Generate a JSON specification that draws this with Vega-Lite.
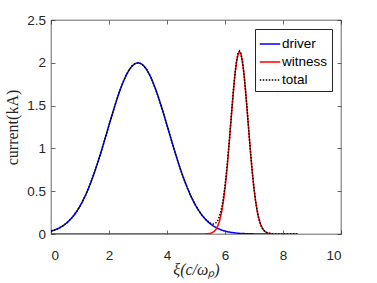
{
  "$schema": "https://vega.github.io/schema/vega-lite/v6.json",
  "width": 290,
  "height": 214,
  "autosize": {"type": "none"},
  "padding": {"left": 51, "top": 20, "right": 36, "bottom": 49},
  "background": "white",
  "config": {
    "view": {"stroke": "#262626", "strokeWidth": 0.7},
    "axis": {
      "domain": false,
      "grid": false,
      "tickColor": "#262626",
      "tickWidth": 0.7,
      "labelFont": "Liberation Sans",
      "labelFontSize": 13.5,
      "labelColor": "#262626",
      "titleFont": "Liberation Serif",
      "titleFontSize": 16,
      "titleFontWeight": "normal",
      "titleColor": "#262626"
    }
  },
  "data": {
    "values": [
      {"x": 0, "current": 0.0338, "series": "driver"},
      {"x": 0.1, "current": 0.0441, "series": "driver"},
      {"x": 0.2, "current": 0.0571, "series": "driver"},
      {"x": 0.3, "current": 0.0733, "series": "driver"},
      {"x": 0.4, "current": 0.0932, "series": "driver"},
      {"x": 0.5, "current": 0.1175, "series": "driver"},
      {"x": 0.6, "current": 0.1467, "series": "driver"},
      {"x": 0.7, "current": 0.1816, "series": "driver"},
      {"x": 0.8, "current": 0.2227, "series": "driver"},
      {"x": 0.9, "current": 0.2707, "series": "driver"},
      {"x": 1.0, "current": 0.3260, "series": "driver"},
      {"x": 1.1, "current": 0.3891, "series": "driver"},
      {"x": 1.2, "current": 0.4601, "series": "driver"},
      {"x": 1.3, "current": 0.5393, "series": "driver"},
      {"x": 1.4, "current": 0.6264, "series": "driver"},
      {"x": 1.5, "current": 0.7209, "series": "driver"},
      {"x": 1.6, "current": 0.8222, "series": "driver"},
      {"x": 1.7, "current": 0.9293, "series": "driver"},
      {"x": 1.8, "current": 1.0409, "series": "driver"},
      {"x": 1.9, "current": 1.1553, "series": "driver"},
      {"x": 2.0, "current": 1.2707, "series": "driver"},
      {"x": 2.1, "current": 1.3851, "series": "driver"},
      {"x": 2.2, "current": 1.4961, "series": "driver"},
      {"x": 2.3, "current": 1.6015, "series": "driver"},
      {"x": 2.4, "current": 1.6987, "series": "driver"},
      {"x": 2.5, "current": 1.7856, "series": "driver"},
      {"x": 2.6, "current": 1.8600, "series": "driver"},
      {"x": 2.7, "current": 1.9200, "series": "driver"},
      {"x": 2.8, "current": 1.9640, "series": "driver"},
      {"x": 2.9, "current": 1.9909, "series": "driver"},
      {"x": 3.0, "current": 2.0, "series": "driver"},
      {"x": 3.1, "current": 1.9909, "series": "driver"},
      {"x": 3.2, "current": 1.9640, "series": "driver"},
      {"x": 3.3, "current": 1.9200, "series": "driver"},
      {"x": 3.4, "current": 1.8600, "series": "driver"},
      {"x": 3.5, "current": 1.7856, "series": "driver"},
      {"x": 3.6, "current": 1.6987, "series": "driver"},
      {"x": 3.7, "current": 1.6015, "series": "driver"},
      {"x": 3.8, "current": 1.4961, "series": "driver"},
      {"x": 3.9, "current": 1.3851, "series": "driver"},
      {"x": 4.0, "current": 1.2707, "series": "driver"},
      {"x": 4.1, "current": 1.1553, "series": "driver"},
      {"x": 4.2, "current": 1.0409, "series": "driver"},
      {"x": 4.3, "current": 0.9293, "series": "driver"},
      {"x": 4.4, "current": 0.8222, "series": "driver"},
      {"x": 4.5, "current": 0.7209, "series": "driver"},
      {"x": 4.6, "current": 0.6264, "series": "driver"},
      {"x": 4.7, "current": 0.5393, "series": "driver"},
      {"x": 4.8, "current": 0.4601, "series": "driver"},
      {"x": 4.9, "current": 0.3891, "series": "driver"},
      {"x": 5.0, "current": 0.3260, "series": "driver"},
      {"x": 5.1, "current": 0.2707, "series": "driver"},
      {"x": 5.2, "current": 0.2227, "series": "driver"},
      {"x": 5.3, "current": 0.1816, "series": "driver"},
      {"x": 5.4, "current": 0.1467, "series": "driver"},
      {"x": 5.5, "current": 0.1175, "series": "driver"},
      {"x": 5.6, "current": 0.0932, "series": "driver"},
      {"x": 5.7, "current": 0.0733, "series": "driver"},
      {"x": 5.8, "current": 0.0571, "series": "driver"},
      {"x": 5.9, "current": 0.0441, "series": "driver"},
      {"x": 6.0, "current": 0.0338, "series": "driver"},
      {"x": 6.1, "current": 0.0256, "series": "driver"},
      {"x": 6.2, "current": 0.0192, "series": "driver"},
      {"x": 6.3, "current": 0.0143, "series": "driver"},
      {"x": 6.4, "current": 0.0106, "series": "driver"},
      {"x": 6.5, "current": 0.0077, "series": "driver"},
      {"x": 6.6, "current": 0.0056, "series": "driver"},
      {"x": 6.7, "current": 0.0040, "series": "driver"},
      {"x": 6.8, "current": 0.0029, "series": "driver"},
      {"x": 6.9, "current": 0.0020, "series": "driver"},
      {"x": 7.0, "current": 0.0014, "series": "driver"},
      {"x": 7.1, "current": 0.0010, "series": "driver"},
      {"x": 7.2, "current": 0.0007, "series": "driver"},
      {"x": 7.3, "current": 0.0005, "series": "driver"},
      {"x": 7.4, "current": 0.0003, "series": "driver"},
      {"x": 7.5, "current": 0.0002, "series": "driver"},

      {"x": 0, "current": 0, "series": "witness"},
      {"x": 1, "current": 0, "series": "witness"},
      {"x": 2, "current": 0, "series": "witness"},
      {"x": 3, "current": 0, "series": "witness"},
      {"x": 4, "current": 0, "series": "witness"},
      {"x": 5, "current": 0, "series": "witness"},
      {"x": 5.2, "current": 0.0002, "series": "witness"},
      {"x": 5.3, "current": 0.0007, "series": "witness"},
      {"x": 5.4, "current": 0.0026, "series": "witness"},
      {"x": 5.5, "current": 0.0082, "series": "witness"},
      {"x": 5.55, "current": 0.0142, "series": "witness"},
      {"x": 5.6, "current": 0.0237, "series": "witness"},
      {"x": 5.65, "current": 0.0385, "series": "witness"},
      {"x": 5.7, "current": 0.0609, "series": "witness"},
      {"x": 5.75, "current": 0.0936, "series": "witness"},
      {"x": 5.8, "current": 0.1400, "series": "witness"},
      {"x": 5.85, "current": 0.2037, "series": "witness"},
      {"x": 5.9, "current": 0.2883, "series": "witness"},
      {"x": 5.95, "current": 0.3968, "series": "witness"},
      {"x": 6.0, "current": 0.5311, "series": "witness"},
      {"x": 6.05, "current": 0.6915, "series": "witness"},
      {"x": 6.1, "current": 0.8757, "series": "witness"},
      {"x": 6.15, "current": 1.0785, "series": "witness"},
      {"x": 6.2, "current": 1.2919, "series": "witness"},
      {"x": 6.25, "current": 1.5051, "series": "witness"},
      {"x": 6.3, "current": 1.7056, "series": "witness"},
      {"x": 6.35, "current": 1.8797, "series": "witness"},
      {"x": 6.4, "current": 2.0149, "series": "witness"},
      {"x": 6.45, "current": 2.1006, "series": "witness"},
      {"x": 6.5, "current": 2.1300, "series": "witness"},
      {"x": 6.55, "current": 2.1006, "series": "witness"},
      {"x": 6.6, "current": 2.0149, "series": "witness"},
      {"x": 6.65, "current": 1.8797, "series": "witness"},
      {"x": 6.7, "current": 1.7056, "series": "witness"},
      {"x": 6.75, "current": 1.5051, "series": "witness"},
      {"x": 6.8, "current": 1.2919, "series": "witness"},
      {"x": 6.85, "current": 1.0785, "series": "witness"},
      {"x": 6.9, "current": 0.8757, "series": "witness"},
      {"x": 6.95, "current": 0.6915, "series": "witness"},
      {"x": 7.0, "current": 0.5311, "series": "witness"},
      {"x": 7.05, "current": 0.3968, "series": "witness"},
      {"x": 7.1, "current": 0.2883, "series": "witness"},
      {"x": 7.15, "current": 0.2037, "series": "witness"},
      {"x": 7.2, "current": 0.1400, "series": "witness"},
      {"x": 7.25, "current": 0.0936, "series": "witness"},
      {"x": 7.3, "current": 0.0609, "series": "witness"},
      {"x": 7.35, "current": 0.0385, "series": "witness"},
      {"x": 7.4, "current": 0.0237, "series": "witness"},
      {"x": 7.45, "current": 0.0142, "series": "witness"},
      {"x": 7.5, "current": 0.0082, "series": "witness"},
      {"x": 7.6, "current": 0.0026, "series": "witness"},
      {"x": 7.7, "current": 0.0007, "series": "witness"},
      {"x": 7.8, "current": 0.0002, "series": "witness"},
      {"x": 8.0, "current": 0, "series": "witness"},
      {"x": 8.5, "current": 0, "series": "witness"},

      {"x": 0, "current": 0.0338, "series": "total"},
      {"x": 0.1, "current": 0.0441, "series": "total"},
      {"x": 0.2, "current": 0.0571, "series": "total"},
      {"x": 0.3, "current": 0.0733, "series": "total"},
      {"x": 0.4, "current": 0.0932, "series": "total"},
      {"x": 0.5, "current": 0.1175, "series": "total"},
      {"x": 0.6, "current": 0.1467, "series": "total"},
      {"x": 0.7, "current": 0.1816, "series": "total"},
      {"x": 0.8, "current": 0.2227, "series": "total"},
      {"x": 0.9, "current": 0.2707, "series": "total"},
      {"x": 1.0, "current": 0.3260, "series": "total"},
      {"x": 1.1, "current": 0.3891, "series": "total"},
      {"x": 1.2, "current": 0.4601, "series": "total"},
      {"x": 1.3, "current": 0.5393, "series": "total"},
      {"x": 1.4, "current": 0.6264, "series": "total"},
      {"x": 1.5, "current": 0.7209, "series": "total"},
      {"x": 1.6, "current": 0.8222, "series": "total"},
      {"x": 1.7, "current": 0.9293, "series": "total"},
      {"x": 1.8, "current": 1.0409, "series": "total"},
      {"x": 1.9, "current": 1.1553, "series": "total"},
      {"x": 2.0, "current": 1.2707, "series": "total"},
      {"x": 2.1, "current": 1.3851, "series": "total"},
      {"x": 2.2, "current": 1.4961, "series": "total"},
      {"x": 2.3, "current": 1.6015, "series": "total"},
      {"x": 2.4, "current": 1.6987, "series": "total"},
      {"x": 2.5, "current": 1.7856, "series": "total"},
      {"x": 2.6, "current": 1.8600, "series": "total"},
      {"x": 2.7, "current": 1.9200, "series": "total"},
      {"x": 2.8, "current": 1.9640, "series": "total"},
      {"x": 2.9, "current": 1.9909, "series": "total"},
      {"x": 3.0, "current": 2.0, "series": "total"},
      {"x": 3.1, "current": 1.9909, "series": "total"},
      {"x": 3.2, "current": 1.9640, "series": "total"},
      {"x": 3.3, "current": 1.9200, "series": "total"},
      {"x": 3.4, "current": 1.8600, "series": "total"},
      {"x": 3.5, "current": 1.7856, "series": "total"},
      {"x": 3.6, "current": 1.6987, "series": "total"},
      {"x": 3.7, "current": 1.6015, "series": "total"},
      {"x": 3.8, "current": 1.4961, "series": "total"},
      {"x": 3.9, "current": 1.3851, "series": "total"},
      {"x": 4.0, "current": 1.2707, "series": "total"},
      {"x": 4.1, "current": 1.1553, "series": "total"},
      {"x": 4.2, "current": 1.0409, "series": "total"},
      {"x": 4.3, "current": 0.9293, "series": "total"},
      {"x": 4.4, "current": 0.8222, "series": "total"},
      {"x": 4.5, "current": 0.7209, "series": "total"},
      {"x": 4.6, "current": 0.6264, "series": "total"},
      {"x": 4.7, "current": 0.5393, "series": "total"},
      {"x": 4.8, "current": 0.4601, "series": "total"},
      {"x": 4.9, "current": 0.3891, "series": "total"},
      {"x": 5.0, "current": 0.3260, "series": "total"},
      {"x": 5.1, "current": 0.2707, "series": "total"},
      {"x": 5.2, "current": 0.2229, "series": "total"},
      {"x": 5.3, "current": 0.1823, "series": "total"},
      {"x": 5.4, "current": 0.1493, "series": "total"},
      {"x": 5.5, "current": 0.1257, "series": "total"},
      {"x": 5.55, "current": 0.1190, "series": "total"},
      {"x": 5.6, "current": 0.1169, "series": "total"},
      {"x": 5.65, "current": 0.1213, "series": "total"},
      {"x": 5.7, "current": 0.1342, "series": "total"},
      {"x": 5.75, "current": 0.1584, "series": "total"},
      {"x": 5.8, "current": 0.1971, "series": "total"},
      {"x": 5.85, "current": 0.2540, "series": "total"},
      {"x": 5.9, "current": 0.3324, "series": "total"},
      {"x": 5.95, "current": 0.4354, "series": "total"},
      {"x": 6.0, "current": 0.5649, "series": "total"},
      {"x": 6.05, "current": 0.7209, "series": "total"},
      {"x": 6.1, "current": 0.9013, "series": "total"},
      {"x": 6.15, "current": 1.1007, "series": "total"},
      {"x": 6.2, "current": 1.3111, "series": "total"},
      {"x": 6.25, "current": 1.5217, "series": "total"},
      {"x": 6.3, "current": 1.7199, "series": "total"},
      {"x": 6.35, "current": 1.8920, "series": "total"},
      {"x": 6.4, "current": 2.0255, "series": "total"},
      {"x": 6.45, "current": 2.1097, "series": "total"},
      {"x": 6.5, "current": 2.1377, "series": "total"},
      {"x": 6.55, "current": 2.1072, "series": "total"},
      {"x": 6.6, "current": 2.0205, "series": "total"},
      {"x": 6.65, "current": 1.8845, "series": "total"},
      {"x": 6.7, "current": 1.7096, "series": "total"},
      {"x": 6.75, "current": 1.5085, "series": "total"},
      {"x": 6.8, "current": 1.2948, "series": "total"},
      {"x": 6.85, "current": 1.0809, "series": "total"},
      {"x": 6.9, "current": 0.8777, "series": "total"},
      {"x": 6.95, "current": 0.6932, "series": "total"},
      {"x": 7.0, "current": 0.5325, "series": "total"},
      {"x": 7.05, "current": 0.3980, "series": "total"},
      {"x": 7.1, "current": 0.2893, "series": "total"},
      {"x": 7.15, "current": 0.2045, "series": "total"},
      {"x": 7.2, "current": 0.1407, "series": "total"},
      {"x": 7.25, "current": 0.0942, "series": "total"},
      {"x": 7.3, "current": 0.0614, "series": "total"},
      {"x": 7.35, "current": 0.0389, "series": "total"},
      {"x": 7.4, "current": 0.0240, "series": "total"},
      {"x": 7.45, "current": 0.0145, "series": "total"},
      {"x": 7.5, "current": 0.0084, "series": "total"},
      {"x": 7.6, "current": 0.0027, "series": "total"},
      {"x": 7.7, "current": 0.0007, "series": "total"},
      {"x": 7.8, "current": 0.0002, "series": "total"},
      {"x": 8.0, "current": 0, "series": "total"},
      {"x": 8.5, "current": 0, "series": "total"}
    ]
  },
  "layer": [
    {
      "mark": {"type": "line", "strokeWidth": 1.5, "clip": true},
      "encoding": {
        "x": {
          "field": "x", "type": "quantitative",
          "scale": {"domain": [0, 10], "nice": false, "zero": false},
          "axis": {"orient": "bottom", "values": [0, 2, 4, 6, 8, 10], "tickSize": -4, "labelPadding": 18, "title": "ξ(c/ωₚ)", "titleFontStyle": "italic", "titlePadding": 0}
        },
        "y": {
          "field": "current", "type": "quantitative",
          "scale": {"domain": [0, 2.5], "nice": false, "zero": false},
          "axis": {"orient": "left", "values": [0, 0.5, 1, 1.5, 2, 2.5], "format": "~g", "tickSize": -4, "labelPadding": 9.5, "title": "current(kA)", "titlePadding": 6}
        },
        "color": {
          "field": "series", "type": "nominal",
          "scale": {"domain": ["driver", "witness", "total"], "range": ["#0000ff", "#ff0000", "#000000"]},
          "legend": {
            "title": null, "orient": "top-right", "offset": 9,
            "strokeColor": "#262626", "fillColor": "white", "padding": 4,
            "symbolType": "stroke", "symbolSize": 420, "symbolStrokeWidth": 1.5,
            "labelFont": "Liberation Sans", "labelFontSize": 13.5, "labelColor": "#000000",
            "labelOffset": 1, "rowPadding": -1, "cornerRadius": 0
          }
        },
        "strokeDash": {
          "field": "series", "type": "nominal",
          "scale": {"domain": ["driver", "witness", "total"], "range": [[1, 0], [1, 0], [1.5, 1.5]]},
          "legend": null
        }
      }
    },
    {
      "mark": {"type": "line", "opacity": 0},
      "encoding": {
        "x": {
          "field": "x", "type": "quantitative",
          "axis": {"orient": "top", "values": [0, 2, 4, 6, 8, 10], "tickSize": -4, "labels": false, "title": null}
        },
        "y": {
          "field": "current", "type": "quantitative",
          "axis": {"orient": "right", "values": [0, 0.5, 1, 1.5, 2, 2.5], "tickSize": -4, "labels": false, "title": null}
        }
      }
    }
  ],
  "resolve": {"axis": {"x": "independent", "y": "independent"}}
}
